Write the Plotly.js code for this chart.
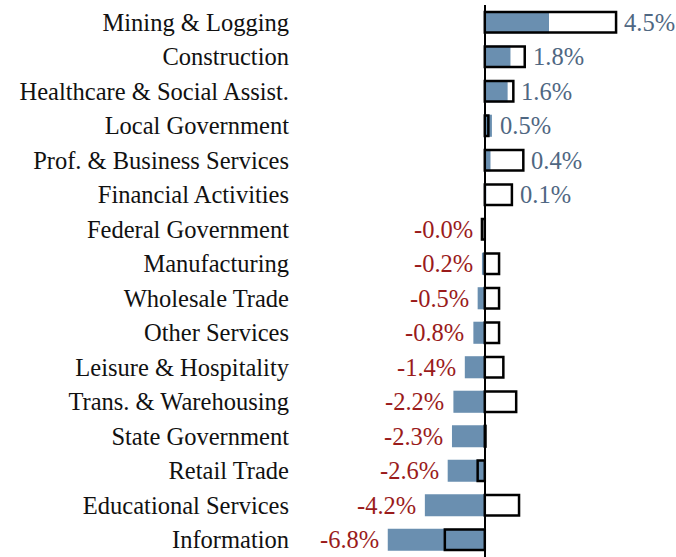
<!DOCTYPE html>
<html>
<head>
<meta charset="utf-8">
<script src="https://cdn.plot.ly/plotly-3.0.1.min.js"></script>
<style>html,body{margin:0;padding:0;background:#fff;}#chart{width:676px;height:557px;}</style>
</head>
<body>
<div id="chart"></div>
<script>
const categories = ["Mining & Logging","Construction","Healthcare & Social Assist.","Local Government","Prof. & Business Services","Financial Activities","Federal Government","Manufacturing","Wholesale Trade","Other Services","Leisure & Hospitality","Trans. & Warehousing","State Government","Retail Trade","Educational Services","Information"];
const current = [4.5,1.8,1.6,0.5,0.4,0.1,-0.02,-0.2,-0.5,-0.8,-1.4,-2.2,-2.3,-2.6,-4.2,-6.8];
const outline = [9.2,2.8,2.0,0.25,2.7,1.9,-0.2,1.0,1.0,1.0,1.3,2.2,0.05,-0.5,2.4,-2.8];
const labels = ["4.5%","1.8%","1.6%","0.5%","0.4%","0.1%","-0.0%","-0.2%","-0.5%","-0.8%","-1.4%","-2.2%","-2.3%","-2.6%","-4.2%","-6.8%"];

const font = "Liberation Serif, Times New Roman, serif";
const annotations = categories.map((c,i)=>{
  const pos = labels[i][0] !== '-';
  const x = pos ? Math.max(current[i], outline[i], 0) : Math.min(current[i], outline[i], 0);
  return {x:x, y:c, xref:'x', yref:'y', text:labels[i], showarrow:false,
    xanchor: pos ? 'left' : 'right', xshift: pos ? 6 : -7,
    font:{family:font, size:24.5, color: pos ? '#4f6782' : '#9a1b1b'}};
});

const data = [
  {type:'bar', orientation:'h', y:categories, x:current, marker:{color:'#6a8fb0', line:{width:0}}, width:0.64, hoverinfo:'skip'},
  {type:'bar', orientation:'h', y:categories, x:outline, marker:{color:'rgba(0,0,0,0)', line:{color:'#000', width:2.5}}, width:0.6, hoverinfo:'skip'}
];
const layout = {
  width:676, height:557, margin:{l:300, r:0, t:5, b:0},
  barmode:'overlay', showlegend:false, plot_bgcolor:'#fff', paper_bgcolor:'#fff',
  font:{family:font, size:24.5, color:'#111'},
  xaxis:{range:[-12.95,13.4], showticklabels:false, showgrid:false, zeroline:true, zerolinecolor:'#000', zerolinewidth:1.5, ticks:''},
  yaxis:{autorange:'reversed', showgrid:false, zeroline:false, ticks:'', ticklabelstandoff:10, tickfont:{family:font, size:24.5, color:'#111'}},
  annotations:annotations
};
Plotly.newPlot('chart', data, layout, {staticPlot:true});
</script>
</body>
</html>
